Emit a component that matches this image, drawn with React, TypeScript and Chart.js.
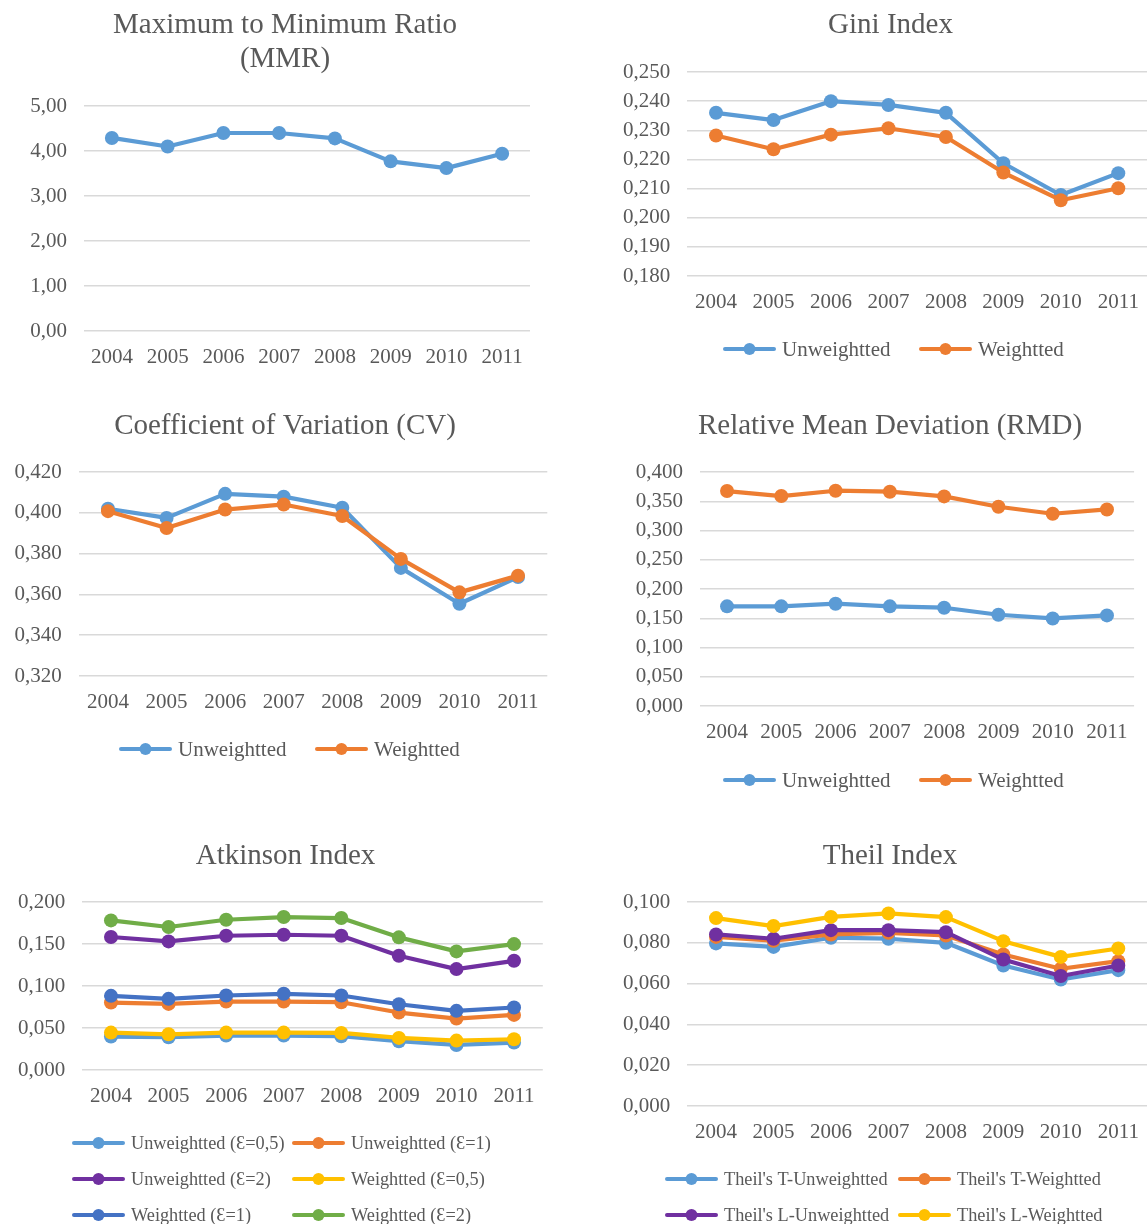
import React, { useEffect, useRef } from 'react';
import { Chart, registerables } from 'chart.js';

Chart.register(...registerables);

// ---------------- data ----------------
const years = ['2004', '2005', '2006', '2007', '2008', '2009', '2010', '2011'];

const mmr = [4.29, 4.1, 4.4, 4.4, 4.28, 3.77, 3.62, 3.94];

const giniUnweighted = [0.236, 0.2335, 0.24, 0.2387, 0.236, 0.2187, 0.2078, 0.2153];
const giniWeighted = [0.2282, 0.2235, 0.2285, 0.2307, 0.2277, 0.2155, 0.206, 0.2101];

const cvUnweighted = [0.402, 0.3975, 0.4093, 0.4079, 0.4025, 0.373, 0.3554, 0.3685];
const cvWeighted = [0.4008, 0.3925, 0.4016, 0.4041, 0.3984, 0.3774, 0.361, 0.3692];

const rmdUnweighted = [0.1703, 0.1703, 0.1749, 0.1703, 0.168, 0.156, 0.1497, 0.1549];
const rmdWeighted = [0.3674, 0.3589, 0.368, 0.3663, 0.3583, 0.3406, 0.3286, 0.336];

const atkU05 = [0.0398, 0.039, 0.041, 0.041, 0.0402, 0.0342, 0.0298, 0.0326];
const atkU1 = [0.0803, 0.0787, 0.0815, 0.0815, 0.0807, 0.0684, 0.0612, 0.0656];
const atkU2 = [0.1583, 0.1531, 0.1598, 0.161, 0.1598, 0.136, 0.1201, 0.13];
const atkW05 = [0.0445, 0.0425, 0.0445, 0.0445, 0.0441, 0.0382, 0.035, 0.0366];
const atkW1 = [0.0883, 0.0847, 0.0887, 0.0907, 0.0887, 0.0783, 0.0704, 0.0744];
const atkW2 = [0.1781, 0.1702, 0.1789, 0.1821, 0.1809, 0.1579, 0.1412, 0.1499];

const theilTU = [0.0797, 0.078, 0.0825, 0.082, 0.08, 0.0689, 0.062, 0.0666];
const theilTW = [0.0829, 0.081, 0.0841, 0.0849, 0.0836, 0.0743, 0.0673, 0.071];
const theilLU = [0.0841, 0.082, 0.0862, 0.0862, 0.0852, 0.0718, 0.0637, 0.0689];
const theilLW = [0.0921, 0.0882, 0.0927, 0.0944, 0.0926, 0.0808, 0.0731, 0.0772];

const twoLabels = ['Unweightted', 'Weightted'];
const atkinsonLabels = [
  'Unweightted (\u0190=0,5)',
  'Unweightted (\u0190=1)',
  'Unweightted (\u0190=2)',
  'Weightted (\u0190=0,5)',
  'Weightted (\u0190=1)',
  'Weightted (\u0190=2)',
];
const theilLabels = [
  "Theil's T-Unweightted",
  "Theil's T-Weightted",
  "Theil's L-Unweightted",
  "Theil's L-Weightted",
];

// ---------------- styles ----------------
const FONT = "'Liberation Serif', 'Times New Roman', 'DejaVu Serif', serif";
const TEXT = '#595959';
const GRID = '#d9d9d9';
const BLUE = '#5b9bd5';
const ORANGE = '#ed7d31';
const PURPLE = '#7030a0';
const YELLOW = '#ffc000';
const DBLUE = '#4472c4';
const GREEN = '#70ad47';

const TITLE_SIZE = 29;
const TITLE_LH = 1.2;
const TICK_SIZE = 21;
const TICK_LH = 1.2;
const TICK_LEN = 13.4;
const XAXIS_H = TICK_LEN + TICK_SIZE * TICK_LH;

type Series = { label: string; data: number[]; color: string };
type Box = {
  left: number; top: number; height: number;
  plotLeft: number; plotRight: number; plotTop: number; plotBottom: number;
  titleX: number; titleY: number;
};
type LegendSpec = { cols: number[]; rows: number[]; size: number } | null;
type Spec = {
  title: string | string[];
  series: Series[];
  min: number; max: number; step: number; decimals: number;
  box: Box;
  legend: LegendSpec;
};

function makeLegendPlugin(legend: LegendSpec, box: Box) {
  return {
    id: 'gridLegend',
    afterDraw(chart: any) {
      if (!legend) return;
      const ctx = chart.ctx as CanvasRenderingContext2D;
      ctx.save();
      ctx.font = `${legend.size}px ${FONT}`;
      ctx.textBaseline = 'middle';
      ctx.textAlign = 'left';
      chart.data.datasets.forEach((ds: any, i: number) => {
        const nc = legend.cols.length;
        const x = legend.cols[i % nc] - box.left;
        const y = legend.rows[Math.floor(i / nc)] - box.top;
        ctx.strokeStyle = ds.borderColor;
        ctx.lineWidth = 4;
        ctx.lineCap = 'round';
        ctx.beginPath();
        ctx.moveTo(x + 2, y);
        ctx.lineTo(x + 51, y);
        ctx.stroke();
        ctx.fillStyle = ds.borderColor;
        ctx.beginPath();
        ctx.arc(x + 26.5, y, 6, 0, Math.PI * 2);
        ctx.fill();
        ctx.fillStyle = TEXT;
        ctx.fillText(ds.label, x + 59, y + 1);
      });
      ctx.restore();
    },
  };
}

function ChartBox({ spec }: { spec: Spec }) {
  const ref = useRef<HTMLCanvasElement>(null);
  const b = spec.box;
  // the title is centred over the whole canvas: width = 2 * (titleX - left)
  const width = Math.round(2 * (b.titleX - b.left));
  useEffect(() => {
    if (!ref.current) return;
    const nLines = Array.isArray(spec.title) ? spec.title.length : 1;
    const lineH = TITLE_SIZE * TITLE_LH;
    const yAxisW = b.plotLeft - b.left;
    const rightW = b.left + width - b.plotRight;
    const tPadTop = b.titleY - b.top - lineH / 2;
    const tPadBottom = b.plotTop - b.top - tPadTop - nLines * lineH;
    const padB = b.height - (b.plotBottom - b.top) - XAXIS_H;
    const n = spec.series.length;
    const chart = new Chart(ref.current, {
      type: 'line',
      data: {
        labels: years,
        datasets: spec.series.map((s, i) => ({
          label: s.label,
          data: s.data,
          borderColor: s.color,
          backgroundColor: s.color,
          pointBackgroundColor: s.color,
          pointBorderColor: s.color,
          pointBorderWidth: 0,
          pointRadius: 7,
          borderWidth: 4.2,
          tension: 0,
          order: n - i,
          clip: false as any,
          borderJoinStyle: 'round' as const,
          borderCapStyle: 'round' as const,
        })),
      },
      options: {
        responsive: false,
        animation: false,
        devicePixelRatio: 1,
        layout: {
          autoPadding: false,
          padding: { left: 0, right: 0, top: 0, bottom: padB },
        },
        plugins: {
          legend: { display: false },
          tooltip: { enabled: false },
          title: {
            display: true,
            text: spec.title,
            color: TEXT,
            font: { family: FONT, size: TITLE_SIZE, weight: 'normal', lineHeight: TITLE_LH },
            padding: { top: tPadTop, bottom: tPadBottom },
          },
        },
        scales: {
          x: {
            type: 'category',
            offset: true,
            grid: { display: false, drawTicks: true, tickLength: TICK_LEN },
            border: { display: false },
            ticks: {
              padding: 0,
              color: TEXT,
              maxRotation: 0,
              autoSkip: false,
              font: { family: FONT, size: TICK_SIZE, lineHeight: TICK_LH },
            },
          },
          y: {
            min: spec.min,
            max: spec.max,
            ticks: {
              stepSize: spec.step,
              padding: 17,
              color: TEXT,
              font: { family: FONT, size: TICK_SIZE, lineHeight: TICK_LH },
              callback: (v: any) => Number(v).toFixed(spec.decimals).replace('.', ','),
            },
            grid: { color: GRID, lineWidth: 1.5, drawTicks: false },
            border: { display: false },
            afterFit: (s: any) => {
              s.width = yAxisW;
            },
          },
          // empty spacer on the right so the title can stay centred where the reference has it
          spacer: {
            type: 'linear',
            position: 'right',
            display: true,
            grid: { display: false, drawTicks: false },
            border: { display: false },
            ticks: { display: false },
            afterFit: (s: any) => {
              s.width = rightW;
            },
          },
        },
      } as any,
      plugins: [makeLegendPlugin(spec.legend, b)],
    });
    return () => chart.destroy();
  }, []);
  return (
    <canvas
      ref={ref}
      width={width}
      height={b.height}
      style={{ position: 'absolute', left: b.left, top: b.top, width, height: b.height }}
    />
  );
}

const specs: Spec[] = [
  {
    title: ['Maximum to Minimum Ratio', '(MMR)'],
    series: [{ label: 'MMR', data: mmr, color: BLUE }],
    min: 0, max: 5, step: 1, decimals: 2,
    box: { left: 0, top: 0, height: 390, plotLeft: 84, plotRight: 530, plotTop: 106, plotBottom: 331, titleX: 285, titleY: 25 },
    legend: null,
  },
  {
    title: 'Gini Index',
    series: [
      { label: twoLabels[0], data: giniUnweighted, color: BLUE },
      { label: twoLabels[1], data: giniWeighted, color: ORANGE },
    ],
    min: 0.18, max: 0.25, step: 0.01, decimals: 3,
    box: { left: 590, top: 0, height: 390, plotLeft: 687.3, plotRight: 1147, plotTop: 72, plotBottom: 276, titleX: 890.5, titleY: 25 },
    legend: { cols: [723, 919], rows: [349], size: 21 },
  },
  {
    title: 'Coefficient of Variation (CV)',
    series: [
      { label: twoLabels[0], data: cvUnweighted, color: BLUE },
      { label: twoLabels[1], data: cvWeighted, color: ORANGE },
    ],
    min: 0.32, max: 0.42, step: 0.02, decimals: 3,
    box: { left: 0, top: 390, height: 410, plotLeft: 78.7, plotRight: 547.3, plotTop: 472, plotBottom: 676, titleX: 285, titleY: 426 },
    legend: { cols: [119, 315], rows: [749], size: 21 },
  },
  {
    title: 'Relative Mean Deviation (RMD)',
    series: [
      { label: twoLabels[0], data: rmdUnweighted, color: BLUE },
      { label: twoLabels[1], data: rmdWeighted, color: ORANGE },
    ],
    min: 0, max: 0.4, step: 0.05, decimals: 3,
    box: { left: 590, top: 390, height: 410, plotLeft: 699.9, plotRight: 1134.1, plotTop: 472, plotBottom: 706, titleX: 890, titleY: 426 },
    legend: { cols: [723, 919], rows: [780], size: 21 },
  },
  {
    title: 'Atkinson Index',
    series: [
      { label: atkinsonLabels[0], data: atkU05, color: BLUE },
      { label: atkinsonLabels[1], data: atkU1, color: ORANGE },
      { label: atkinsonLabels[2], data: atkU2, color: PURPLE },
      { label: atkinsonLabels[3], data: atkW05, color: YELLOW },
      { label: atkinsonLabels[4], data: atkW1, color: DBLUE },
      { label: atkinsonLabels[5], data: atkW2, color: GREEN },
    ],
    min: 0, max: 0.2, step: 0.05, decimals: 3,
    box: { left: 0, top: 800, height: 424, plotLeft: 82.2, plotRight: 542.8, plotTop: 902, plotBottom: 1070, titleX: 285.5, titleY: 856 },
    legend: { cols: [72, 292], rows: [1143, 1179, 1215], size: 18.3 },
  },
  {
    title: 'Theil Index',
    series: [
      { label: theilLabels[0], data: theilTU, color: BLUE },
      { label: theilLabels[1], data: theilTW, color: ORANGE },
      { label: theilLabels[2], data: theilLU, color: PURPLE },
      { label: theilLabels[3], data: theilLW, color: YELLOW },
    ],
    min: 0, max: 0.1, step: 0.02, decimals: 3,
    box: { left: 590, top: 800, height: 424, plotLeft: 687.3, plotRight: 1147, plotTop: 902, plotBottom: 1106, titleX: 890, titleY: 856 },
    legend: { cols: [665, 898], rows: [1179, 1215], size: 18.3 },
  },
];

export default function App() {
  return (
    <div style={{ position: 'fixed', left: 0, top: 0, width: 1147, height: 1224, overflow: 'hidden', background: '#ffffff' }}>
      {specs.map((s, i) => (
        <ChartBox key={i} spec={s} />
      ))}
    </div>
  );
}
